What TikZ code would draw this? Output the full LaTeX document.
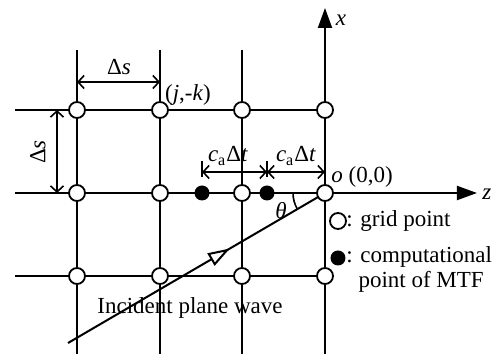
\documentclass[tikz,border=0pt]{standalone}
\usepackage{fontspec}
\setmainfont{Liberation Serif}
\usetikzlibrary{arrows.meta,calc,backgrounds,decorations.markings}
\tikzset{
  gline/.style={line width=1pt},
  gpt/.style={circle,draw,fill=white,line width=0.9pt,minimum size=8pt,inner sep=0pt},
  mpt/.style={circle,fill=black,minimum size=7.5pt,inner sep=0pt},
  axis/.style={gline,-{Triangle[length=10pt,width=7pt]}},
  dim/.style={line width=0.8pt,{Straight Barb[length=3pt,width=6.5pt]}-{Straight Barb[length=3pt,width=6.5pt]}},
  wave/.style={gline,postaction={decorate},decoration={markings,
    mark=at position 0.63 with {\arrow{Triangle[open,fill=white,length=11pt,width=7pt]}}}},
  lbl/.style={font=\fontsize{11.5}{12.5}\selectfont,inner sep=1pt}}

\begin{document}
\begin{tikzpicture}[x=0.5pt,y=0.5pt]
\useasboundingbox (0,0) rectangle (500,354);
% grid points and MTF points
\foreach \c/\x in {1/77,2/160,3/242,4/325}
  \foreach \r/\y in {1/244,2/161,3/78}
    \node[gpt] (g\c\r) at (\x,\y) {};
\node[mpt] (m1) at (202,161) {};
\node[mpt] (m2) at (267,161) {};
% free ends of the lines
\foreach \r/\y in {1/244,2/161,3/78} \coordinate (e\r) at (15,\y);
\foreach \c/\x in {1/77,2/160,3/242} {\coordinate (t\c) at (\x,304); \coordinate (b\c) at (\x,0);}
\coordinate (b4) at (325,0); \coordinate (xtip) at (325,346); \coordinate (ztip) at (477,161);
\coordinate (ws) at (68,11);
\begin{scope}[on background layer]
\draw[gline] (e1)--(g41.center); \draw[gline] (e3)--(g43.center); \draw[axis] (e2)--(ztip);
\foreach \c in {1,2,3} \draw[gline] (t\c)--(b\c);
\draw[axis] (b4)--(xtip);
\draw[wave] (ws)--(g42.center);
\draw[line width=0.8pt] ([shift={(180:16pt)}]g42.center) arc[start angle=180,end angle=210.3,radius=16pt];
\end{scope}
% dimensions
\coordinate (da) at (77,272); \coordinate (db) at (160,272);
\coordinate (dc) at (57,244); \coordinate (dd) at (57,161);
\coordinate (ca) at (202,182); \coordinate (cb) at (267,182); \coordinate (cc) at (325,182);
\draw[dim] (da)--(db); \draw[dim] (dc)--(dd);
\draw[dim] (ca)--(cb); \draw[dim] (cb)--(cc);
\draw[line width=0.8pt] ([yshift=-2.5pt]ca)--([yshift=5.5pt]ca);
\draw[line width=0.8pt] ([yshift=-2.5pt]cb)--([yshift=5.5pt]cb);
% labels
\node[lbl] (ds1) at (119,287) {Δ\textit{s}};
\node[lbl,rotate=90] (ds2) at (38,202) {Δ\textit{s}};
\node[lbl] (lj) at (188,259) {(\textit{j},-\textit{k})};
\node[lbl] (lc1) at (228,198) {\textit{c}\textsubscript{a}Δ\textit{t}};
\node[lbl] (lc2) at (296,198) {\textit{c}\textsubscript{a}Δ\textit{t}};
\node[lbl,anchor=west] (lo) at (329,177) {\textit{o} (0,0)};
\node[lbl] (lx) at (341,334) {\textit{x}};
\node[lbl,anchor=west] (lz) at (480,160) {\textit{z}};
\node[lbl] (lt) at (281,143) {\textit{θ}};
\node[lbl] (lw) at (190,46) {Incident plane wave};
% legend
\node[gpt] (k1) at (338,133) {};
\node[lbl,anchor=west] (lk1) at (344,133) {: grid point};
\node[mpt] (k2) at (338,96) {};
\node[lbl,anchor=west,align=left] (lk2) at (344,85) {: computational\\\hphantom{:} point of MTF};
\end{tikzpicture}
\end{document}
